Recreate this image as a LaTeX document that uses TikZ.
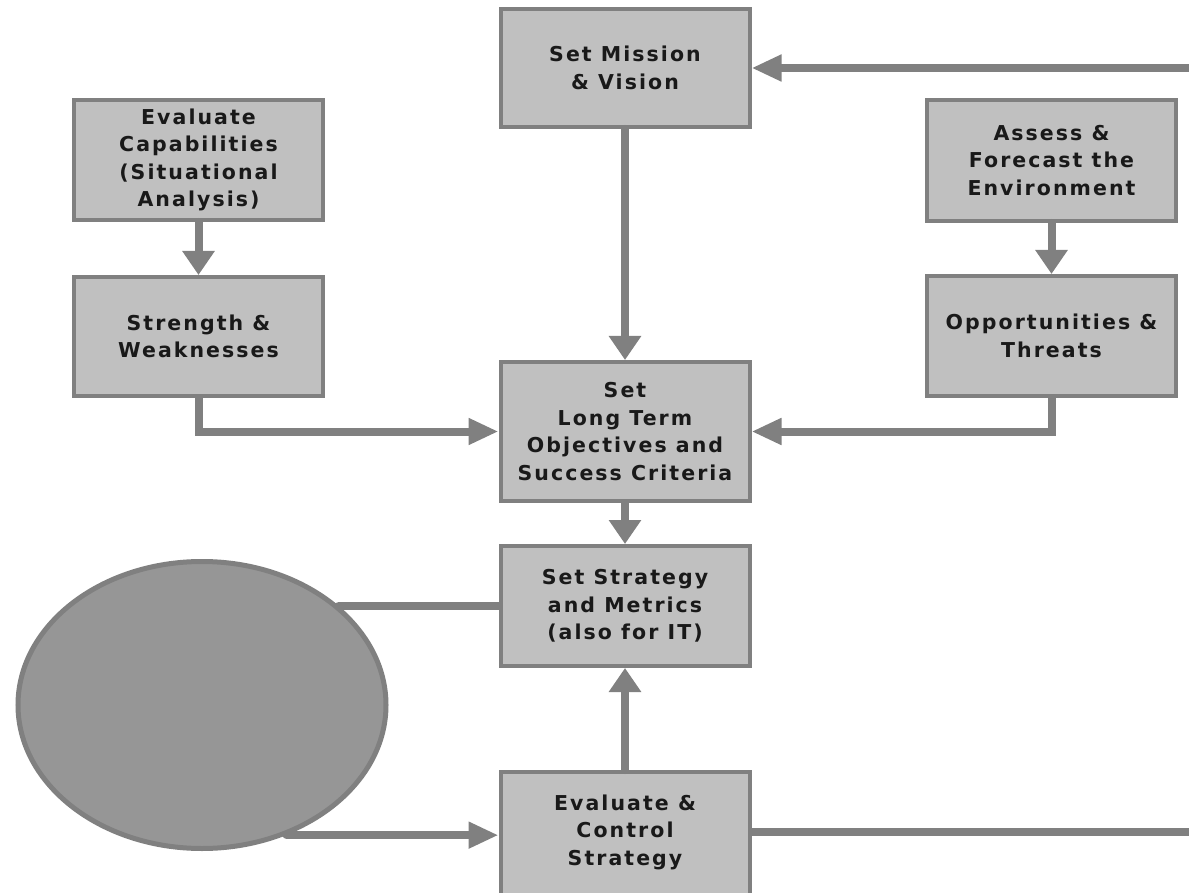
\documentclass[tikz,border=0pt]{standalone}
\usepackage{fontspec}
\setmainfont{DejaVu Sans}
\newfontfamily\labelfont{DejaVu Sans}[LetterSpace=10]
\usetikzlibrary{arrows.meta,shapes.geometric}
\definecolor{boxfill}{HTML}{C0C0C0}
\definecolor{edgegray}{HTML}{808080}
\definecolor{ovalfill}{HTML}{969696}
\begin{document}
\begin{tikzpicture}[x=1pt,y=-1pt,
  stagetext/.style={inner sep=0pt, align=center, text=black!90,
    font=\labelfont\bfseries\fontsize{20.5}{27.5}\selectfont},
  stage/.style={stagetext, draw=edgegray, line width=4pt, fill=boxfill,
    rectangle, minimum width=249pt},
  link/.style={draw=edgegray, line width=8pt, line cap=round},
  flowh/.style={link, -{Triangle[length=30pt,width=25pt]}},
  flowv/.style={link, -{Triangle[length=24pt,width=31pt]}},
]
\clip (0,0) rectangle (1189,893);
\fill[white] (0,0) rectangle (1189,893);

% process boxes
\node[stage, minimum height=118pt] (mission) at (625,68) {Set Mission\\\& Vision};
\node[stage, minimum height=120pt] (capab) at (198.5,160) {Evaluate\\Capabilities\\(Situational\\Analysis)};
\node[stage, minimum height=119pt] (strength) at (198.5,336.5) {Strength \&\\Weaknesses};
\node[stage, minimum height=121pt] (assess) at (1051.5,160.5) {Assess \&\\Forecast the\\Environment};
\node[stage, minimum height=120pt] (opps) at (1051.5,336) {Opportunities \&\\Threats};
\node[stage, minimum height=139pt] (objectives) at (625,431.5) {Set\\Long Term\\Objectives and\\Success Criteria};
\node[stage, minimum height=120pt] (strategy) at (625,606) {Set Strategy\\and Metrics\\(also for IT)};
% the last box runs past the lower margin
\node[stage, minimum height=140pt] (control) at (625,842) {};
\node[stagetext] (controltext) at (625,832) {Evaluate \&\\Control\\Strategy};

% grey oval
\node[ellipse, draw=edgegray, line width=5pt, fill=ovalfill, inner sep=0pt,
  minimum width=368pt, minimum height=287pt] (oval) at (202,705) {};

% feedback ends at the right margin
\coordinate (feedin) at (1189,68);
\coordinate (feedout) at (1189,832);

% connectors
\draw[flowh, line cap=butt] (feedin) -- (mission.east);
\draw[flowv] (mission.south) -- (objectives.north);
\draw[flowv] (capab.south) -- (strength.north);
\draw[flowv] (assess.south) -- (opps.north);
\draw[flowh] (strength.south) |- (objectives.west);
\draw[flowh] (opps.south) |- (objectives.east);
\draw[flowv] (objectives.south) -- (strategy.north);
\draw[flowv] (control.north) -- (strategy.south);
\draw[link] (oval.36.7) -- (oval.36.7 -| strategy.west);
\draw[flowh] (oval.-57) -- (oval.-57 -| control.west);
\draw[link, line cap=butt] (feedout -| control.east) -- (feedout);
\end{tikzpicture}
\end{document}
